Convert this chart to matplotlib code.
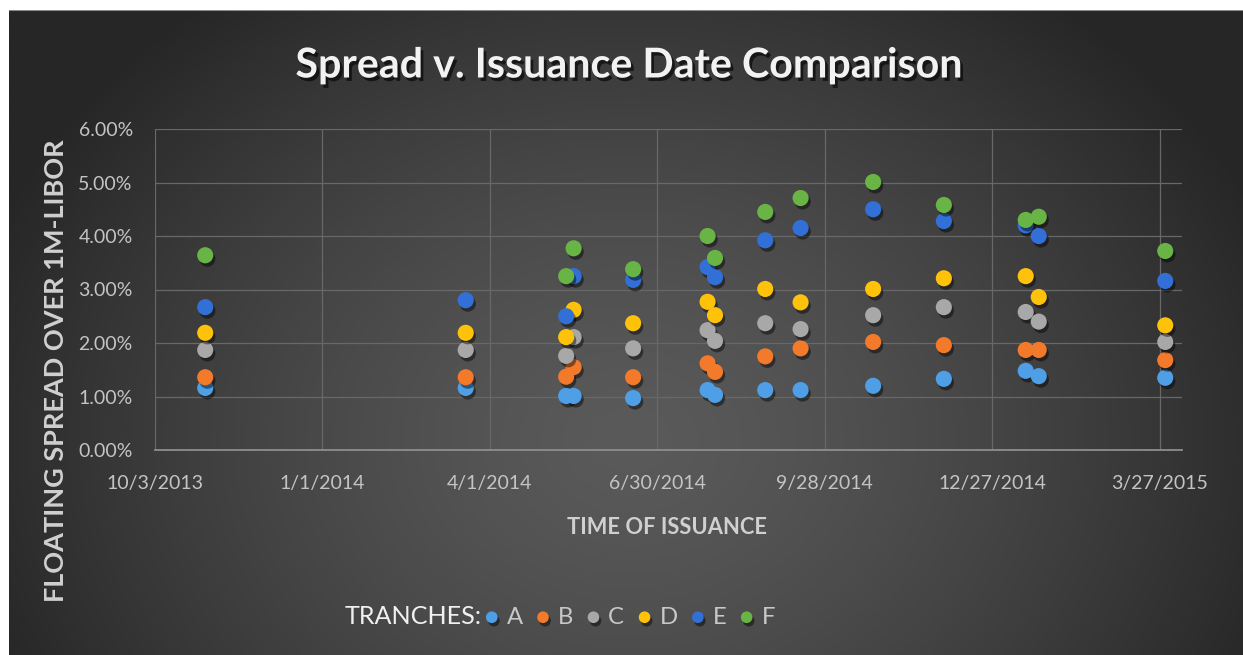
import numpy as np
import pandas as pd
import matplotlib
matplotlib.use("Agg")
import matplotlib.pyplot as plt
import matplotlib.patheffects as pe
from matplotlib.patches import Rectangle

# ---------------- data ----------------
issue_dates = ["2013-10-30", "2014-03-19", "2014-05-12", "2014-05-16", "2014-06-17",
               "2014-07-27", "2014-07-31", "2014-08-27", "2014-09-15", "2014-10-24",
               "2014-12-01", "2015-01-14", "2015-01-21", "2015-03-30"]
tranche_a = [1.16, 1.16, 1.01, 1.01, 0.97, 1.12, 1.03, 1.12, 1.12, 1.20, 1.33, 1.48, 1.38, 1.35]
tranche_b = [1.36, 1.36, 1.37, 1.55, 1.36, 1.62, 1.46, 1.75, 1.90, 2.02, 1.96, 1.87, 1.87, 1.68]
tranche_c = [1.87, 1.87, 1.76, 2.11, 1.90, 2.24, 2.04, 2.37, 2.26, 2.52, 2.67, 2.58, 2.40, 2.02]
tranche_d = [2.19, 2.19, 2.11, 2.62, 2.37, 2.77, 2.52, 3.01, 2.76, 3.01, 3.21, 3.25, 2.86, 2.33]
tranche_e = [2.67, 2.80, 2.50, 3.25, 3.18, 3.42, 3.23, 3.92, 4.15, 4.50, 4.28, 4.20, 4.00, 3.16]
tranche_f = [3.64, np.nan, 3.25, 3.77, 3.38, 4.00, 3.59, 4.45, 4.71, 5.01, 4.58, 4.30, 4.36, 3.72]
tranche_names = ["A", "B", "C", "D", "E", "F"]
x_tick_labels = ["10/3/2013", "1/1/2014", "4/1/2014", "6/30/2014", "9/28/2014",
                 "12/27/2014", "3/27/2015"]
y_ticks = [0, 1, 2, 3, 4, 5, 6]

series = [tranche_a, tranche_b, tranche_c, tranche_d, tranche_e, tranche_f]
colors = ["#4f9fe6", "#f27a2a", "#a8a8a8", "#ffc20a", "#3270d8", "#68b545"]

W, H = 1243, 655
FONT = "Lato"

fig = plt.figure(figsize=(W / 100, H / 100), dpi=100, facecolor="#2c2c2c")

# background gradient panel (extends past right/bottom edges)
bg = fig.add_axes([9 / W, -0.02, 1.03 - 9 / W, 1.02 - 10 / H])
bg.set_axis_off()
ny, nx = 400, 760
yy, xx = np.mgrid[0:ny, 0:nx]
px = 9 + xx / nx * (W * 1.03 - 9)
py = 10 + yy / ny * (H * 1.02 - 10)
r = np.sqrt(((px - 630) / 690) ** 2 + ((py - 440) / 560) ** 2)
r = np.clip(r, 0, 1)
val = (90 - 52 * r ** 1.4) / 255
img = np.dstack([val, val, val])
bg.imshow(img, aspect="auto", extent=[0, 1, 0, 1], origin="upper")
bg.set_xlim(0, 1)
bg.set_ylim(0, 1)
bg.axhline(1, color="#8a8a8a", lw=1.5)

# white page margins at top and left
fig.patches.append(Rectangle((0, 1 - 10 / H), 1, 10 / H, transform=fig.transFigure,
                             facecolor="white", edgecolor="none", zorder=5))
fig.patches.append(Rectangle((0, 0), 9 / W, 1, transform=fig.transFigure,
                             facecolor="white", edgecolor="none", zorder=5))

# main axes
ax = fig.add_axes([155 / W, (H - 450) / H, (1182 - 155) / W, (450 - 129) / H])
ax.set_facecolor("none")
dates = pd.to_datetime(issue_dates)
tick_dates = pd.to_datetime(x_tick_labels, format="%m/%d/%Y")

shadow = [pe.SimplePatchShadow(offset=(1.5, -2.5), shadow_rgbFace="black", alpha=0.45),
          pe.Normal()]
for name, vals, c in zip(tranche_names, series, colors):
    ax.scatter(dates, vals, s=135, color=c, edgecolors="none", zorder=3,
               label=name, path_effects=shadow)

ax.set_xlim(pd.Timestamp("2013-10-03"), pd.Timestamp("2015-04-08"))
ax.set_ylim(0, 6)
ax.set_xticks(tick_dates)
ax.set_xticklabels(x_tick_labels)
ax.set_yticks(y_ticks)
ax.set_yticklabels([f"{v:.2f}%" for v in y_ticks])
ax.grid(True, color="#686868", lw=0.9)
ax.set_axisbelow(True)
for s in ["top", "right", "left"]:
    ax.spines[s].set_visible(False)
ax.spines["bottom"].set_color("#8e8e8e")
ax.spines["bottom"].set_linewidth(1.3)
ax.tick_params(axis="both", length=0, colors="#c4c4c4", labelsize=14)
ax.tick_params(axis="y", pad=16)
ax.tick_params(axis="x", pad=18)
for lab in ax.get_xticklabels() + ax.get_yticklabels():
    lab.set_fontfamily(FONT)

title = fig.text(629 / W, 1 - 66 / H, "Spread v. Issuance Date Comparison",
                 ha="center", va="center", fontsize=30, fontweight="bold",
                 color="#f2f2f2", family=FONT,
                 path_effects=[pe.withSimplePatchShadow(offset=(2, -2.5), shadow_rgbFace="black", alpha=0.6)])
ylab = fig.text(56 / W, 1 - 371 / H, "FLOATING SPREAD OVER 1M-LIBOR", rotation=90,
                ha="center", va="center", fontsize=16, fontweight="bold",
                color="#d0d0d0", family=FONT)
xlab = fig.text(667 / W, 1 - 528 / H, "TIME OF ISSUANCE", ha="center", va="center",
                fontsize=16, fontweight="bold", color="#d0d0d0", family=FONT)
tr = fig.text(345 / W, 1 - 617 / H, "TRANCHES:", ha="left", va="center",
              fontsize=16, color="#f0f0f0", family=FONT)

# fit text widths to reference
fig.canvas.draw()
rend = fig.canvas.get_renderer()
for t, target in [(title, 666), (ylab, 463), (xlab, 200), (tr, 137)]:
    bb = t.get_window_extent(rend)
    w = max(bb.width, bb.height)
    t.set_fontsize(t.get_fontsize() * target / w)

leg = ax.legend(loc="center left", bbox_to_anchor=(487 / W, 1 - 617 / H),
                bbox_transform=fig.transFigure, ncol=6, frameon=False,
                markerscale=0.72, handletextpad=0.42, columnspacing=0.65,
                handlelength=0.4, borderpad=0, borderaxespad=0,
                prop={"family": FONT, "size": tr.get_fontsize() * 0.95})
for t in leg.get_texts():
    t.set_color("#c8c8c8")

fig.savefig("out.png", dpi=100, facecolor=fig.get_facecolor())
